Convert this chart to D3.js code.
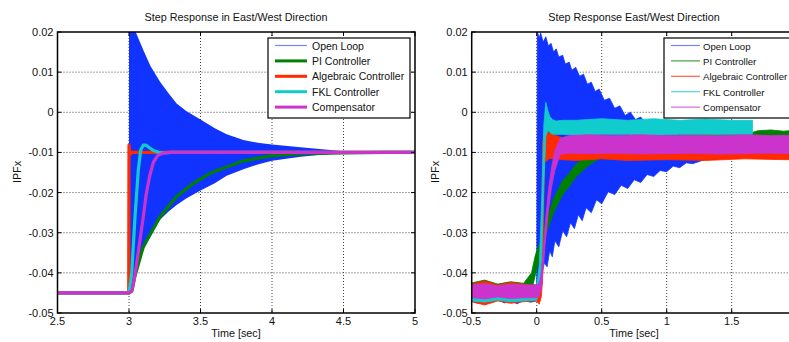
<!DOCTYPE html>
<html>
<head>
<meta charset="utf-8">
<script src="https://cdn.jsdelivr.net/npm/d3@7"></script>
<style>
  body { margin: 0; background: #fff; }
  svg { display: block; font-family: "Liberation Sans", Arial, sans-serif; }
  .tick-label { font-size: 11px; fill: #111; }
  .title { font-size: 10.8px; fill: #111; }
</style>
</head>
<body>
<script>
// ---- data ----
var seriesNames = ["Open Loop", "PI Controller", "Algebraic Controller", "FKL Controller", "Compensator"];
var seriesColors = ["#1133ff", "#008000", "#ff2a00", "#11cccc", "#cc33cc"];

var yTicks = [0.02, 0.01, 0, -0.01, -0.02, -0.03, -0.04, -0.05];
var yTickLabels = ["0.02", "0.01", "0", "-0.01", "-0.02", "-0.03", "-0.04", "-0.05"];
var leftXTicks = [2.5, 3, 3.5, 4, 4.5, 5];
var leftXTickLabels = ["2.5", "3", "3.5", "4", "4.5", "5"];
var rightXTicks = [-0.5, 0, 0.5, 1, 1.5, 2];
var rightXTickLabels = ["-0.5", "0", "0.5", "1", "1.5", ""];

// left plot: open loop oscillation envelope
var olTime  = [2.5, 2.999, 3.0, 3.02, 3.04, 3.055, 3.1, 3.15, 3.217, 3.275, 3.333, 3.4, 3.5, 3.6, 3.683, 3.8, 3.9, 4.0, 4.2, 4.35, 4.5, 4.6, 5.0];
var olUpper = [-0.045, -0.045, 0.024, 0.022, 0.0205, 0.0193, 0.0155, 0.0115, 0.0076, 0.0048, 0.0022, 0.0003, -0.0018, -0.0040, -0.0055, -0.0069, -0.0076, -0.0080, -0.0087, -0.0092, -0.0097, -0.0100, -0.0100];
var olLower = [-0.045, -0.045, -0.045, -0.0440, -0.0410, -0.0385, -0.0343, -0.0310, -0.0268, -0.0248, -0.0231, -0.0215, -0.0195, -0.0177, -0.0158, -0.0142, -0.0130, -0.0121, -0.0111, -0.0106, -0.0102, -0.0100, -0.0100];

var piTime  = [2.5, 3.0, 3.02, 3.04, 3.06, 3.1, 3.217, 3.333, 3.45, 3.566, 3.683, 3.8, 4.0, 4.2, 4.5, 4.8, 5.0];
var piValue = [-0.045, -0.045, -0.0445, -0.0410, -0.0385, -0.0335, -0.0260, -0.0210, -0.0177, -0.0152, -0.0136, -0.0121, -0.0108, -0.0103, -0.0101, -0.0100, -0.0100];

var algTime  = [2.5, 2.998, 2.999, 3.0, 3.005, 3.01, 3.02, 3.05, 5.0];
var algValue = [-0.045, -0.045, -0.027, -0.0082, -0.0096, -0.0104, -0.0100, -0.0100, -0.0100];

var fklTime  = [2.5, 3.0, 3.019, 3.042, 3.065, 3.082, 3.1, 3.12, 3.145, 3.17, 3.217, 3.3, 5.0];
var fklValue = [-0.045, -0.045, -0.0401, -0.0260, -0.0144, -0.0094, -0.0082, -0.0082, -0.0089, -0.0095, -0.0101, -0.0100, -0.0100];

var compTime  = [2.5, 3.0, 3.02, 3.04, 3.06, 3.08, 3.1, 3.12, 3.145, 3.17, 3.2, 3.24, 3.3, 5.0];
var compValue = [-0.045, -0.045, -0.0445, -0.0410, -0.0360, -0.0310, -0.0260, -0.0205, -0.0158, -0.0125, -0.0108, -0.0101, -0.0100, -0.0100];

// right plot: measured (noisy) responses, upper and lower edges of each band
var rOlHiTime = [-0.5, -0.45, -0.4, -0.35, -0.3, -0.25, -0.2, -0.15, -0.1, -0.05, 0.0, 0.005, 0.02, 0.03, 0.05, 0.07, 0.09, 0.11, 0.13, 0.15, 0.17, 0.2, 0.22, 0.25, 0.27, 0.3, 0.33, 0.36, 0.39, 0.42, 0.45, 0.48, 0.52, 0.56, 0.6, 0.64, 0.68, 0.72, 0.76, 0.8, 0.85, 0.9, 0.95, 1.0, 1.1, 1.2, 1.3, 1.4, 1.5, 1.6, 1.7, 1.8, 1.9, 2.0];
var rOlHi = [-0.0432, -0.0425, -0.0434, -0.0427, -0.0436, -0.0428, -0.0433, -0.0426, -0.0434, -0.0429, -0.0430, 0.0200, 0.0185, 0.0198, 0.0175, 0.0188, 0.0165, 0.0172, 0.0150, 0.0158, 0.0138, 0.0142, 0.0120, 0.0125, 0.0105, 0.0112, 0.0090, 0.0095, 0.0070, 0.0075, 0.0052, 0.0058, 0.0030, 0.0035, 0.0010, 0.0016, -0.0008, 0.0000, -0.0018, -0.0012, -0.0032, -0.0028, -0.0045, -0.0042, -0.0050, -0.0055, -0.0060, -0.0060, -0.0062, -0.0063, -0.0065, -0.0065, -0.0066, -0.0066];
var rOlLoTime = [-0.5, -0.45, -0.4, -0.35, -0.3, -0.25, -0.2, -0.15, -0.1, -0.05, 0.0, 0.005, 0.04, 0.06, 0.08, 0.1, 0.12, 0.14, 0.17, 0.2, 0.23, 0.26, 0.29, 0.32, 0.35, 0.38, 0.42, 0.46, 0.5, 0.55, 0.6, 0.65, 0.7, 0.75, 0.8, 0.85, 0.9, 0.95, 1.0, 1.05, 1.1, 1.15, 1.2, 1.3, 1.4, 1.5, 1.6, 1.7, 1.8, 1.9, 2.0];
var rOlLo = [-0.0470, -0.0476, -0.0468, -0.0474, -0.0466, -0.0475, -0.0469, -0.0477, -0.0468, -0.0473, -0.0470, -0.0460, -0.0400, -0.0375, -0.0385, -0.0345, -0.0360, -0.0320, -0.0335, -0.0295, -0.0310, -0.0275, -0.0290, -0.0255, -0.0270, -0.0238, -0.0250, -0.0218, -0.0228, -0.0198, -0.0205, -0.0182, -0.0190, -0.0168, -0.0175, -0.0155, -0.0160, -0.0145, -0.0148, -0.0134, -0.0138, -0.0126, -0.0128, -0.0117, -0.0114, -0.0108, -0.0109, -0.0104, -0.0106, -0.0103, -0.0104];

var rPiTime = [-0.5, -0.4, -0.3, -0.2, -0.1, -0.04, -0.01, 0.03, 0.08, 0.13, 0.2, 0.25, 0.3, 0.4, 0.5, 0.6, 0.8, 1.0, 1.2, 1.4, 1.66, 1.7, 1.8, 1.9, 2.0];
var rPiHi = [-0.0425, -0.0418, -0.0428, -0.0422, -0.0426, -0.0400, -0.0355, -0.0320, -0.0265, -0.0215, -0.0170, -0.0152, -0.0130, -0.0105, -0.0088, -0.0075, -0.0065, -0.0060, -0.0055, -0.0052, -0.0050, -0.0046, -0.0044, -0.0047, -0.0044];
var rPiLo = [-0.0465, -0.0470, -0.0462, -0.0468, -0.0465, -0.0445, -0.0405, -0.0355, -0.0295, -0.0250, -0.0205, -0.0185, -0.0162, -0.0132, -0.0112, -0.0103, -0.0098, -0.0097, -0.0096, -0.0092, -0.0090, -0.0075, -0.0072, -0.0074, -0.0072];

var rAlgTime = [-0.5, -0.4, -0.3, -0.2, -0.1, 0.0, 0.02, 0.035, 0.045, 0.06, 0.1, 0.2, 0.3, 0.5, 0.7, 1.0, 1.3, 1.6, 1.9, 2.0];
var rAlgHi = [-0.0428, -0.0420, -0.0430, -0.0424, -0.0428, -0.0432, -0.0440, -0.0400, -0.0080, -0.0040, -0.0052, -0.0064, -0.0066, -0.0064, -0.0062, -0.0064, -0.0062, -0.0060, -0.0062, -0.0062];
var rAlgLo = [-0.0472, -0.0480, -0.0470, -0.0476, -0.0472, -0.0470, -0.0478, -0.0460, -0.0420, -0.0125, -0.0115, -0.0118, -0.0120, -0.0116, -0.0120, -0.0118, -0.0120, -0.0116, -0.0118, -0.0118];

var rFklTime = [-0.5, -0.4, -0.3, -0.2, -0.1, 0.0, 0.02, 0.04, 0.055, 0.07, 0.085, 0.1, 0.12, 0.15, 0.2, 0.3, 0.5, 0.7, 0.9, 1.1, 1.3, 1.5, 1.66];
var rFklHi = [-0.0432, -0.0428, -0.0434, -0.0430, -0.0432, -0.0432, -0.0380, -0.0200, -0.0030, 0.0025, 0.0005, -0.0010, -0.0018, -0.0022, -0.0020, -0.0020, -0.0016, -0.0020, -0.0016, -0.0020, -0.0017, -0.0020, -0.0020];
var rFklLo = [-0.0470, -0.0473, -0.0468, -0.0472, -0.0470, -0.0468, -0.0450, -0.0350, -0.0180, -0.0060, -0.0045, -0.0050, -0.0055, -0.0055, -0.0055, -0.0057, -0.0055, -0.0055, -0.0057, -0.0055, -0.0055, -0.0055, -0.0055];

var rCompTime = [-0.5, -0.4, -0.3, -0.2, -0.1, 0.0, 0.02, 0.04, 0.065, 0.09, 0.115, 0.14, 0.18, 0.25, 0.4, 0.6, 0.8, 1.0, 1.2, 1.4, 1.6, 1.8, 2.0];
var rCompHi = [-0.0430, -0.0427, -0.0432, -0.0428, -0.0430, -0.0430, -0.0425, -0.0390, -0.0280, -0.0195, -0.0135, -0.0095, -0.0065, -0.0058, -0.0056, -0.0058, -0.0056, -0.0058, -0.0057, -0.0058, -0.0056, -0.0058, -0.0057];
var rCompLo = [-0.0462, -0.0465, -0.0460, -0.0464, -0.0462, -0.0462, -0.0458, -0.0430, -0.0330, -0.0245, -0.0185, -0.0145, -0.0105, -0.0102, -0.0103, -0.0102, -0.0104, -0.0103, -0.0102, -0.0104, -0.0103, -0.0102, -0.0103];

// ---- layout ----
var W = 789, H = 342;
var svg = d3.select("body").append("svg").attr("width", W).attr("height", H);

var y = d3.scaleLinear().domain([-0.05, 0.02]).range([313, 32]);
var xL = d3.scaleLinear().domain([2.5, 5]).range([57.5, 415]);
var xR = d3.scaleLinear().domain([-0.5, 2]).range([471.7, 796.7]);

function zip(t, v) { return t.map(function(d, i) { return [d, v[i]]; }); }

function drawFrame(x, xTicks, id) {
    var x0 = x.range()[0], x1 = x.range()[1], y0 = y.range()[1], y1 = y.range()[0];
    var g = svg.append("g");
    g.append("rect").attr("x", x0).attr("y", y0).attr("width", x1 - x0).attr("height", y1 - y0).attr("fill", "#fff");
    svg.append("clipPath").attr("id", id).append("rect")
        .attr("x", x0).attr("y", y0).attr("width", x1 - x0).attr("height", y1 - y0);

    // dotted grid
    g.selectAll("line.gx").data(xTicks.slice(1, -1)).enter().append("line")
        .attr("x1", function(d) { return x(d); }).attr("x2", function(d) { return x(d); })
        .attr("y1", y0).attr("y2", y1)
        .attr("stroke", "#444").attr("stroke-width", 1).attr("stroke-dasharray", "1,2");
    g.selectAll("line.gy").data(yTicks.slice(1, -1)).enter().append("line")
        .attr("x1", x0).attr("x2", x1)
        .attr("y1", function(d) { return y(d); }).attr("y2", function(d) { return y(d); })
        .attr("stroke", "#444").attr("stroke-width", 1).attr("stroke-dasharray", "1,2");
}

function drawAxes(x, xTicks, xLabels) {
    var x0 = x.range()[0], x1 = x.range()[1], y0 = y.range()[1], y1 = y.range()[0];
    var g = svg.append("g");
    // inward tick marks on all four sides
    xTicks.forEach(function(d) {
        g.append("line").attr("x1", x(d)).attr("x2", x(d)).attr("y1", y1).attr("y2", y1 - 4).attr("stroke", "#000");
        g.append("line").attr("x1", x(d)).attr("x2", x(d)).attr("y1", y0).attr("y2", y0 + 4).attr("stroke", "#000");
    });
    yTicks.forEach(function(d) {
        g.append("line").attr("x1", x0).attr("x2", x0 + 4).attr("y1", y(d)).attr("y2", y(d)).attr("stroke", "#000");
        g.append("line").attr("x1", x1).attr("x2", x1 - 4).attr("y1", y(d)).attr("y2", y(d)).attr("stroke", "#000");
    });
    g.append("rect").attr("x", x0).attr("y", y0).attr("width", x1 - x0).attr("height", y1 - y0)
        .attr("fill", "none").attr("stroke", "#000").attr("stroke-width", 1.5);

    g.selectAll("text.xt").data(xTicks).enter().append("text")
        .attr("class", "tick-label")
        .attr("x", function(d) { return x(d); }).attr("y", y1 + 12)
        .attr("text-anchor", "middle")
        .text(function(d, i) { return xLabels[i]; });
    g.selectAll("text.yt").data(yTicks).enter().append("text")
        .attr("class", "tick-label")
        .attr("x", x0 - 4).attr("y", function(d) { return y(d) + 4; })
        .attr("text-anchor", "end")
        .text(function(d, i) { return yTickLabels[i]; });
}

function drawLegend(lx, ly, lw, thick, fontSize) {
    var g = svg.append("g");
    g.append("rect").attr("x", lx).attr("y", ly).attr("width", lw).attr("height", 80)
        .attr("fill", "#fff").attr("stroke", "#000").attr("stroke-width", 1.2);
    seriesNames.forEach(function(name, i) {
        var yy = ly + 7.5 + i * 15.4;
        g.append("line").attr("x1", lx + 7).attr("x2", lx + (thick ? 39 : 36))
            .attr("y1", yy).attr("y2", yy)
            .attr("stroke", seriesColors[i])
            .attr("stroke-width", thick && i > 0 ? 3 : 1.2)
            .attr("stroke-opacity", i === 0 ? 0.6 : (thick ? 1 : 0.75));
        g.append("text").attr("font-size", fontSize + "px").attr("fill", "#111")
            .attr("x", lx + (thick ? 44 : 39)).attr("y", yy + 4).text(name);
    });
}

// ---- left plot ----
drawFrame(xL, leftXTicks, "clipL");
var left = svg.append("g").attr("clip-path", "url(#clipL)");

left.append("path")
    .datum(olTime.map(function(t, i) { return [t, olUpper[i], olLower[i]]; }))
    .attr("fill", seriesColors[0])
    .attr("d", d3.area().x(function(d) { return xL(d[0]); })
        .y0(function(d) { return y(d[2]); }).y1(function(d) { return y(d[1]); }));

var lineL = d3.line().x(function(d) { return xL(d[0]); }).y(function(d) { return y(d[1]); });
[[piTime, piValue, 1], [algTime, algValue, 2], [fklTime, fklValue, 3], [compTime, compValue, 4]].forEach(function(s) {
    left.append("path").datum(zip(s[0], s[1]))
        .attr("fill", "none").attr("stroke", seriesColors[s[2]])
        .attr("stroke-width", 3.2).attr("stroke-linejoin", "round")
        .attr("d", lineL);
});
drawAxes(xL, leftXTicks, leftXTickLabels);
drawLegend(268, 38, 142, true, 10.5);

svg.append("text").attr("class", "title").attr("x", 236).attr("y", 21).attr("text-anchor", "middle")
    .text("Step Response in East/West Direction");
svg.append("text").attr("class", "title").attr("x", 236).attr("y", 337).attr("text-anchor", "middle")
    .text("Time [sec]");
svg.append("text").attr("class", "title").attr("transform", "translate(21,172) rotate(-90)")
    .attr("text-anchor", "middle").text("IPFx");

// ---- right plot ----
drawFrame(xR, rightXTicks, "clipR");
var right = svg.append("g").attr("clip-path", "url(#clipR)");
var lineR = d3.line().x(function(d) { return xR(d[0]); }).y(function(d) { return y(d[1]); });

// band polygon: upper edge forward, lower edge back
function band(tHi, vHi, tLo, vLo, color) {
    var pts = zip(tHi, vHi).concat(zip(tLo, vLo).reverse());
    right.append("path").datum(pts)
        .attr("fill", color).attr("stroke", color).attr("stroke-width", 0.8)
        .attr("d", function(d) { return lineR(d) + "Z"; });
}
band(rOlHiTime, rOlHi, rOlLoTime, rOlLo, seriesColors[0]);
band(rPiTime, rPiHi, rPiTime, rPiLo, seriesColors[1]);
band(rAlgTime, rAlgHi, rAlgTime, rAlgLo, seriesColors[2]);
band(rFklTime, rFklHi, rFklTime, rFklLo, seriesColors[3]);
band(rCompTime, rCompHi, rCompTime, rCompLo, seriesColors[4]);

drawAxes(xR, rightXTicks, rightXTickLabels);
drawLegend(664, 38, 140, false, 9.6);

svg.append("text").attr("class", "title").attr("x", 634).attr("y", 21).attr("text-anchor", "middle")
    .text("Step Response East/West Direction");
svg.append("text").attr("class", "title").attr("x", 634).attr("y", 337).attr("text-anchor", "middle")
    .text("Time [sec]");
svg.append("text").attr("class", "title").attr("transform", "translate(439,172) rotate(-90)")
    .attr("text-anchor", "middle").text("IPFx");
</script>
</body>
</html>
